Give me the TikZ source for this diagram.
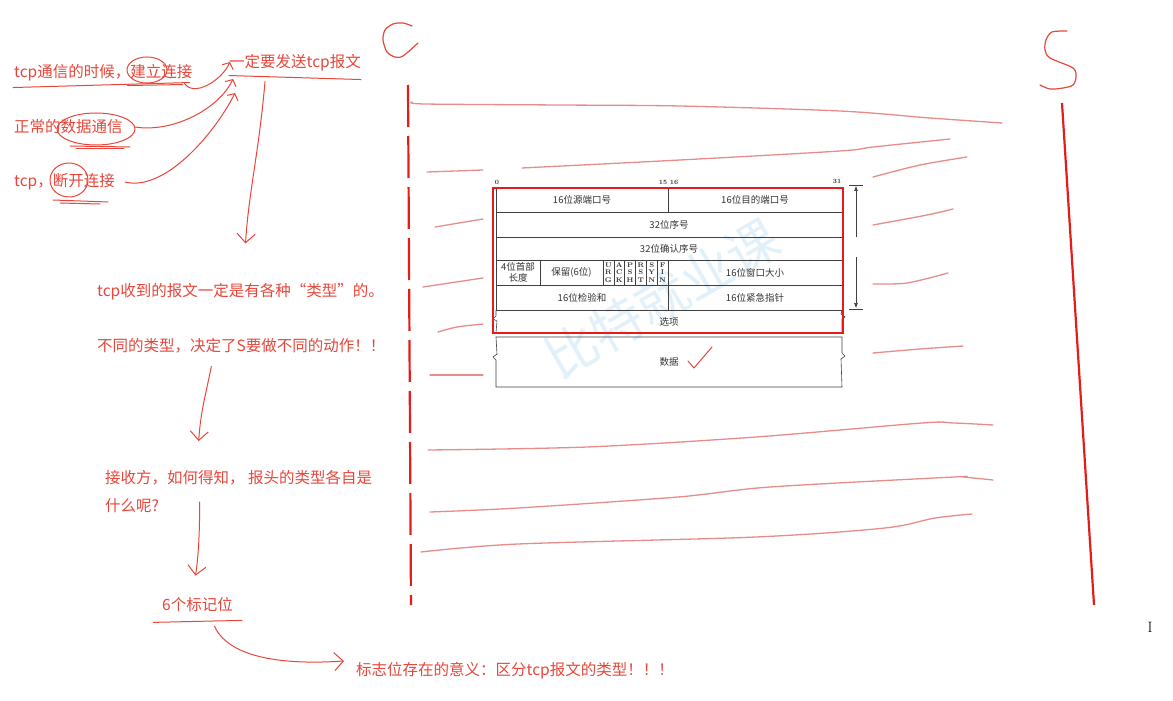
\documentclass[tikz,border=0pt]{standalone}
\usepackage{fontspec}
\newfontfamily\cjk{Noto Sans CJK SC}
\usepackage{tikz}
\usetikzlibrary{arrows.meta, positioning, calc}

\definecolor{notered}{RGB}{232,70,58}
\definecolor{lifered}{RGB}{226,30,26}
\definecolor{sketchred}{RGB}{232,140,138}
\definecolor{boxred}{RGB}{228,28,28}
\definecolor{wmblue}{RGB}{226,241,249}

\begin{document}
\begin{tikzpicture}[
  x=1bp, y=-1bp, >={Straight Barb[length=9bp,width=18bp]},
  note/.style={text=notered, font=\cjk\fontsize{15.5bp}{28bp}\selectfont, anchor=west, inner sep=0pt},
  pen/.style={draw=notered, line width=1bp, line cap=round, line join=round},
  sketch/.style={draw=sketchred, line width=1.3bp, line cap=round, line join=round},
  life/.style={draw=lifered, line width=2.2bp},
  edge/.style={draw=black!75, line width=0.6bp},
  cell/.style={edge, anchor=north west, inner sep=0pt, outer sep=0pt, text=black!80,
               font=\cjk\fontsize{9.5bp}{10.5bp}\selectfont, align=center},
  flag/.style={cell, minimum width=10.83bp, minimum height=25bp,
               font=\bfseries\fontsize{6.8bp}{7.4bp}\selectfont},
  bit/.style={font=\bfseries\fontsize{6.5bp}{6.5bp}\selectfont, inner sep=0pt, text=black!80}]
  \useasboundingbox (0,0) rectangle (1173,701);
  \fill[white] (0,0) rectangle (1173,701);

  % left hand notes
  \node[note] (t1) at (14,73) {tcp通信的时候，建立连接};
  \node[note] (t2) at (14,127) {正常的数据通信};
  \node[note] (t3) at (14,182) {tcp，断开连接};
  \node[note] (goal) at (229,63) {一定要发送tcp报文};
  \node[note] (kinds) at (97,292) {tcp收到的报文一定是有各种“类型”的。};
  \node[note] (act) at (97,346) {不同的类型，决定了S要做不同的动作！！};
  \node[note, anchor=north west, align=left] (ask) at (105,470) {接收方，如何得知， 报头的类型各自是\\什么呢?};
  \node[note] (six) at (162,605) {6个标记位};
  \node[note] (mean) at (356,671) {标志位存在的意义：区分tcp报文的类型！！！};

  % circles and underlines
  \draw[pen] (147,70) ellipse [x radius=20bp, y radius=13bp];
  \draw[pen] (96,129) ellipse [x radius=39bp, y radius=16bp];
  \draw[pen] (69,180) ellipse [x radius=19bp, y radius=17bp];
  \draw[pen] ([xshift=-1bp,yshift=-6bp]t1.south west) -- ([xshift=-3bp,yshift=-1bp]t1.south east);
  \draw[pen] ([xshift=-65bp,yshift=-4bp]t1.south east) -- ([xshift=-10bp,yshift=-3bp]t1.south east);
  \draw[pen] (70,146) -- (130,147); \draw[pen] (76,149) -- (124,149);
  \draw[pen] (53,200) -- (108,202); \draw[pen] (60,203) -- (100,204);
  \draw[pen] ([yshift=-4bp]goal.south west) -- ([yshift=-8bp]goal.south east);
  \draw[pen] ([xshift=-9bp,yshift=-10bp]six.south west) -- ([xshift=9bp,yshift=-8bp]six.south east);

  % arrows between notes
  \draw[pen, ->, >={Straight Barb[length=5bp,width=12bp]}] ([xshift=-8bp,yshift=-2bp]t1.south east)
    .. controls +(10,14) and +(-8,18) .. ([xshift=1bp,yshift=1bp]goal.west);
  \draw[pen, ->, >={Straight Barb[length=5bp,width=12bp]}] ([xshift=12bp]t2.east)
    .. controls +(38,6) and +(-14,30) .. ([xshift=4bp,yshift=-16bp]goal.west);
  \draw[pen, ->, >={Straight Barb[length=5bp,width=12bp]}] ([xshift=10bp]t3.east)
    .. controls +(40,10) and +(-20,40) .. ([xshift=6bp,yshift=-30bp]goal.west);
  \draw[pen, ->] ([xshift=-30bp,yshift=-10bp]goal.south)
    .. controls +(-6,70) and +(3,-50) .. ([xshift=5bp,yshift=40bp]kinds.north);
  \draw[pen, ->] ([xshift=-30bp,yshift=-13bp]act.south)
    .. controls +(-6,30) and +(2,-30) .. ([xshift=-40bp,yshift=29bp]ask.north);
  \draw[pen, ->] ([xshift=-39bp,yshift=-32bp]ask.north)
    .. controls +(0,30) and +(3,-20) .. ([xshift=-2bp,yshift=22bp]six.north);
  \draw[pen, ->] ([xshift=17bp,yshift=-14bp]six.south)
    .. controls +(15,32) and +(-60,4) .. ([xshift=-12bp,yshift=10bp]mean.west);

  % C and S
  \draw[pen, line width=1.2bp] plot[smooth] coordinates {(412,26) (403,23) (393,24) (385,30) (383,40) (387,52) (395,57) (403,56) (418,43)};
  \draw[pen, line width=1.2bp] plot[smooth] coordinates {(1067,31) (1052,32) (1046,40) (1045,50) (1050,58) (1073,68) (1076,77) (1073,85) (1063,88) (1050,89) (1040,85)};
  \draw[life, dash pattern=on 42bp off 9bp] (408,85) -- (411,605);
  \draw[life] (1062,103) -- (1094,605);

  % sketched messages
  \draw[sketch] plot[smooth] coordinates {(412,102) (425,104) (560,105) (680,106) (840,111) (930,118) (1002,123)};
  \draw[sketch] (427,172) -- (483,170);
  \draw[sketch] plot[smooth] coordinates {(522,168) (680,160) (840,151) (873,147) (950,139)};
  \draw[sketch] plot[smooth] coordinates {(873,177) (920,165) (967,157)};
  \draw[sketch] plot[smooth] coordinates {(873,225) (927,215) (953,209)};
  \draw[sketch] plot[smooth] coordinates {(873,284) (907,283) (948,273)};
  \draw[sketch] plot[smooth] coordinates {(873,353) (920,349) (963,346)};
  \draw[sketch] (435,227) -- (483,219);
  \draw[sketch] (423,287) -- (483,278);
  \draw[sketch] plot[smooth] coordinates {(438,332) (457,327) (483,324)};
  \draw[sketch] (430,375) -- (483,375);
  \draw[sketch] plot[smooth] coordinates {(428,450) (587,447) (756,437) (922,423) (954,423) (993,425)};
  \draw[sketch] plot[smooth] coordinates {(430,512) (518,508) (678,497) (770,487) (954,477) (963,477) (993,480)};
  \draw[sketch] plot[smooth] coordinates {(421,552) (518,544) (756,537) (885,528) (935,518) (972,514)};

  % watermark
  \node[rotate=30, text=wmblue, font=\cjk\fontsize{52bp}{52bp}\selectfont] (mark) at (662,298) {比特就业课};

  % tcp header
  \node[bit] (b0) at (497,182) {0};
  \node[bit] (b15) at (663,182) {15};
  \node[bit] (b16) at (674,182) {16};
  \node[bit] (b31) at (837,181) {31};
  \node[cell, minimum width=172bp, minimum height=24bp] (srcport) at (496,188) {16位源端口号};
  \node[cell, minimum width=174bp, minimum height=24bp] (dstport) at (668,188) {16位目的端口号};
  \node[cell, minimum width=346bp, minimum height=25bp] (seq) at (496,212) {32位序号};
  \node[cell, minimum width=346bp, minimum height=23bp] (ackno) at (496,237) {32位确认序号};
  \node[cell, minimum width=44bp, minimum height=25bp] (hlen) at (496,260) {4位首部\\长度};
  \node[cell, minimum width=63bp, minimum height=25bp] (resv) at (540,260) {保留(6位)};
  \foreach \f [count=\i from 0] in {{U\\R\\G},{A\\C\\K},{P\\S\\H},{R\\S\\T},{S\\Y\\N},{F\\I\\N}}
    \node[flag] (flag\i) at (603+\i*10.83,260) {\f};
  \node[cell, minimum width=174bp, minimum height=25bp] (win) at (668,260) {16位窗口大小};
  \node[cell, minimum width=172bp, minimum height=25bp] (csum) at (496,285) {16位检验和};
  \node[cell, minimum width=174bp, minimum height=25bp] (urgptr) at (668,285) {16位紧急指针};
  \node[cell, draw=none, minimum width=346bp, minimum height=23bp] (opt) at (496,310) {选项};
  \node[cell, draw=none, minimum width=346bp, minimum height=50bp] (data) at (496,337) {数据};
  % broken sides
  \draw[edge] (opt.north west) -- ++(0,6) -- ++(-3,3) -- ++(4,2) -- (opt.south west) -- (opt.south east)
    -- ++(0,-14) -- ++(3,-2) -- ++(-4,-3) -- (opt.north east);
  \draw[edge] (data.north west) -- (data.north east) -- ++(0,16) -- ++(3,3) -- ++(-4,3) -- (data.south east)
    -- (data.south west) -- ++(0,-27) -- ++(-3,-3) -- ++(4,-3) -- cycle;
  \draw[boxred, line width=2bp] ([xshift=-3bp]srcport.north west) rectangle ([xshift=1bp]opt.south east);
  \draw[pen] (688,361) -- (694,368) -- (712,347);
  % header length mark
  \draw[edge] (849,185) -- (863,185); \draw[edge] (849,309) -- (863,309);
  \draw[edge, -{Latex[length=5bp,width=4bp]}] (856,237) -- (856,186);
  \draw[edge, -{Latex[length=5bp,width=4bp]}] (856,257) -- (856,308);

  \node[font=\fontsize{15bp}{15bp}\selectfont, inner sep=0pt] (cursor) at (1150,627) {I};
\end{tikzpicture}
\end{document}
